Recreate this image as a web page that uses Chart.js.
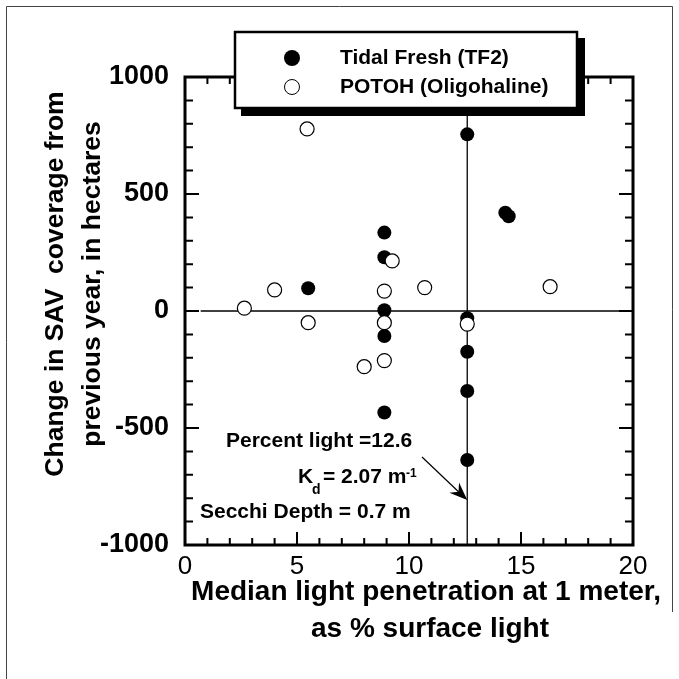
<!DOCTYPE html>
<html>
<head>
<meta charset="utf-8">
<script src="https://cdn.jsdelivr.net/npm/chart.js@4.4.1/dist/chart.umd.min.js"></script>
<style>
  html, body { margin: 0; padding: 0; background: #fff; }
  #wrap { width: 679px; height: 679px; }
</style>
</head>
<body>
<div id="wrap"><canvas id="savChart" width="679" height="679"></canvas></div>
<script>
const FONT = "'Liberation Sans', Arial, Helvetica, sans-serif";

// Tidal Fresh (TF2) - filled circles
const tidalLight  = [12.6, 14.3, 14.45, 8.9, 8.9, 5.5, 8.9, 8.9, 12.6, 12.6, 12.6, 8.9, 12.6];
const tidalChange = [755, 420, 405, 335, 230, 97, 3, -107, -31, -174, -342, -434, -637];

// POTOH (Oligohaline) - open circles
const potohLight  = [5.45, 9.25, 4.0, 8.9, 10.7, 16.3, 2.65, 5.5, 8.9, 12.6, 8.9, 8.0];
const potohChange = [778, 214, 90, 85, 100, 104, 12, -50, -50, -56, -212, -238];

const seriesNames = ['Tidal Fresh (TF2)', 'POTOH (Oligohaline)'];
const xTickValues = [0, 5, 10, 15, 20];
const yTickValues = [-1000, -500, 0, 500, 1000];
const thresholdLight = 12.6;   // vertical reference line
const zeroLineFrom = 0.7;      // horizontal zero line starts here

const yTitle = ['Change in SAV  coverage from', 'previous year, in hectares'];
const xTitle = ['Median light penetration at 1 meter,', 'as % surface light'];

const toPoints = (xs, ys) => xs.map((v, i) => ({ x: v, y: ys[i] }));

// inward ticks, plot frame, and page border
const framePlugin = {
  id: 'frame',
  afterDatasetsDraw(chart) {
    const { ctx, chartArea: a, scales: { x, y } } = chart;
    ctx.save();
    ctx.strokeStyle = '#000';
    ctx.lineWidth = 2;
    ctx.beginPath();
    for (let v = x.min; v <= x.max; v += 1) {
      const px = x.getPixelForValue(v);
      const len = v % 5 === 0 ? 13 : 7;
      ctx.moveTo(px, a.bottom); ctx.lineTo(px, a.bottom - len);
      ctx.moveTo(px, a.top); ctx.lineTo(px, a.top + len);
    }
    for (let v = y.min; v <= y.max; v += 100) {
      const py = y.getPixelForValue(v);
      const len = v % 500 === 0 ? 14 : 8;
      ctx.moveTo(a.left, py); ctx.lineTo(a.left + len, py);
      ctx.moveTo(a.right, py); ctx.lineTo(a.right - len, py);
    }
    ctx.stroke();
    ctx.lineWidth = 3;
    ctx.strokeRect(a.left, a.top, a.right - a.left, a.bottom - a.top);

    // outer page border
    ctx.lineWidth = 1;
    ctx.strokeStyle = '#444';
    ctx.beginPath();
    ctx.moveTo(6.5, 679); ctx.lineTo(6.5, 6.5); ctx.lineTo(672.5, 6.5); ctx.lineTo(672.5, 612);
    ctx.stroke();
    ctx.restore();
  }
};

// legend box, axis titles, annotation
const decorPlugin = {
  id: 'decor',
  afterDraw(chart) {
    const { ctx, scales: { x, y } } = chart;
    ctx.save();

    // legend with drop shadow
    ctx.fillStyle = '#000';
    ctx.fillRect(241, 38, 344, 78);
    ctx.fillStyle = '#fff';
    ctx.fillRect(235, 32, 342, 76);
    ctx.lineWidth = 2.5;
    ctx.strokeStyle = '#000';
    ctx.strokeRect(235, 32, 342, 76);

    ctx.beginPath();
    ctx.arc(292, 58, 8, 0, Math.PI * 2);
    ctx.fillStyle = '#000';
    ctx.fill();
    ctx.beginPath();
    ctx.arc(292, 87, 7.5, 0, Math.PI * 2);
    ctx.lineWidth = 1;
    ctx.stroke();

    ctx.font = 'bold 21px ' + FONT;
    ctx.fillStyle = '#000';
    ctx.textAlign = 'left';
    ctx.textBaseline = 'middle';
    ctx.fillText(seriesNames[0], 340, 58);
    ctx.fillText(seriesNames[1], 340, 87);

    // y axis title (rotated)
    ctx.textBaseline = 'alphabetic';
    ctx.textAlign = 'center';
    ctx.font = 'bold 26.5px ' + FONT;
    [63, 100].forEach((bx, i) => {
      ctx.save();
      ctx.translate(bx, 284);
      ctx.rotate(-Math.PI / 2);
      ctx.fillText(yTitle[i], 0, 0);
      ctx.restore();
    });

    // x axis title
    ctx.font = 'bold 28px ' + FONT;
    ctx.fillText(xTitle[0], 426, 600);
    ctx.fillText(xTitle[1], 430, 637);

    // annotation text
    ctx.textAlign = 'left';
    ctx.font = 'bold 21px ' + FONT;
    ctx.fillText('Percent light =12.6', 226, 447);
    ctx.fillText('K', 298, 483);
    ctx.fillText('= 2.07 m', 323, 483);
    ctx.fillText('Secchi Depth = 0.7 m', 200, 518);
    ctx.font = 'bold 14px ' + FONT;
    ctx.fillText('d', 312, 494);
    ctx.font = 'bold 12px ' + FONT;
    ctx.fillText('-1', 406, 477);

    // arrow to the threshold line
    const tipX = x.getPixelForValue(thresholdLight);
    const tipY = y.getPixelForValue(-808);
    const sx = 422, sy = 457;
    const ang = Math.atan2(tipY - sy, tipX - sx);
    ctx.strokeStyle = '#000';
    ctx.lineWidth = 1.2;
    ctx.beginPath();
    ctx.moveTo(sx, sy);
    ctx.lineTo(tipX - 8 * Math.cos(ang), tipY - 8 * Math.sin(ang));
    ctx.stroke();
    ctx.save();
    ctx.translate(tipX, tipY);
    ctx.rotate(ang);
    ctx.beginPath();
    ctx.moveTo(0, 0);
    ctx.lineTo(-18, -7);
    ctx.lineTo(-12, 0);
    ctx.lineTo(-18, 7);
    ctx.closePath();
    ctx.fillStyle = '#000';
    ctx.fill();
    ctx.restore();

    ctx.restore();
  }
};

const ctx = document.getElementById('savChart').getContext('2d');

const savChart = new Chart(ctx, {
  type: 'scatter',
  data: {
    datasets: [
      {
        label: seriesNames[1],
        data: toPoints(potohLight, potohChange),
        pointRadius: 7,
        pointBackgroundColor: '#fff',
        pointBorderColor: '#000',
        pointBorderWidth: 1.2,
        order: 0
      },
      {
        label: seriesNames[0],
        data: toPoints(tidalLight, tidalChange),
        pointRadius: 7,
        pointBackgroundColor: '#000',
        pointBorderColor: '#000',
        pointBorderWidth: 0,
        order: 1
      },
      {
        label: 'threshold',
        data: [{ x: thresholdLight, y: yTickValues[0] }, { x: thresholdLight, y: yTickValues[4] }],
        showLine: true,
        borderColor: '#000',
        borderWidth: 1.3,
        pointRadius: 0,
        order: 2
      },
      {
        label: 'zero',
        data: [{ x: zeroLineFrom, y: 0 }, { x: xTickValues[4], y: 0 }],
        showLine: true,
        borderColor: '#000',
        borderWidth: 1.3,
        pointRadius: 0,
        order: 2
      }
    ]
  },
  options: {
    responsive: false,
    animation: false,
    devicePixelRatio: 1,
    layout: { padding: { top: 77, right: 46, left: 0, bottom: 0 } },
    plugins: {
      legend: { display: false },
      tooltip: { enabled: false }
    },
    scales: {
      x: {
        type: 'linear',
        min: xTickValues[0],
        max: xTickValues[4],
        afterBuildTicks: (s) => { s.ticks = xTickValues.map(v => ({ value: v })); },
        afterFit: (s) => { s.height = 134; },
        grid: { display: false, drawTicks: false },
        border: { display: false },
        ticks: {
          color: '#000',
          padding: 6,
          font: { family: FONT, size: 26 },
          callback: (v) => String(v)
        }
      },
      y: {
        type: 'linear',
        min: yTickValues[0],
        max: yTickValues[4],
        afterBuildTicks: (s) => { s.ticks = yTickValues.map(v => ({ value: v })); },
        afterFit: (s) => { s.width = 185; },
        grid: { display: false, drawTicks: false },
        border: { display: false },
        ticks: {
          color: '#000',
          padding: 16,
          font: { family: FONT, size: 27, weight: 'bold' },
          callback: (v) => String(v)
        }
      }
    }
  },
  plugins: [framePlugin, decorPlugin]
});
</script>
</body>
</html>
